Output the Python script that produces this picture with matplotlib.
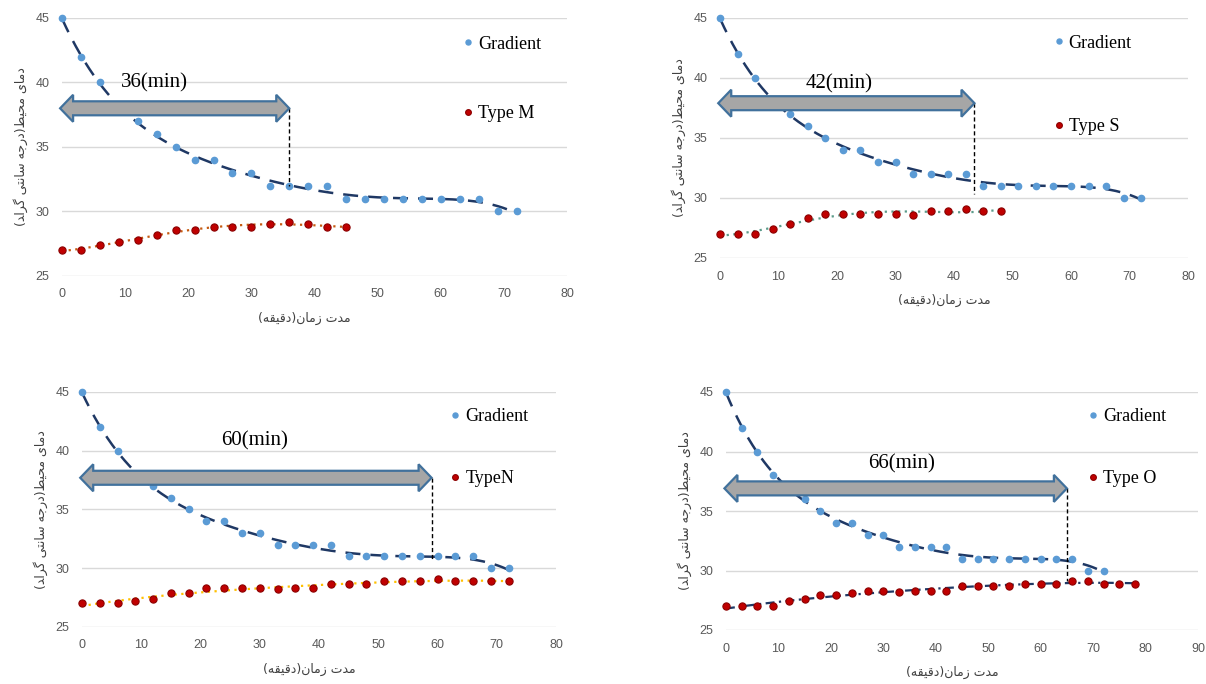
import matplotlib.pyplot as plt
import numpy as np
from matplotlib.patches import Polygon

# minutes (every 3 min)
gradient_x = np.arange(0, 73, 3)
gradient_y = [45, 42, 40, 38, 37, 36, 35, 34, 34, 33, 33, 32, 32, 32, 32,
              31, 31, 31, 31, 31, 31, 31, 31, 30, 30]

type_names = ["Type M", "Type S", "TypeN", "Type O"]
type_m = [27, 27, 27.4, 27.6, 27.8, 28.2, 28.6, 28.6, 28.8, 28.8, 28.8, 29.0,
          29.2, 29.0, 28.8, 28.8]
type_s = [27, 27, 27, 27.4, 27.8, 28.3, 28.7, 28.7, 28.7, 28.7, 28.7, 28.6,
          28.9, 28.9, 29.1, 28.9, 28.9]
type_n = [27, 27, 27, 27.2, 27.4, 27.9, 27.9, 28.3, 28.3, 28.3, 28.3, 28.2,
          28.3, 28.3, 28.7, 28.7, 28.7, 28.9, 28.9, 28.9, 29.1, 28.9, 28.9,
          28.9, 28.9]
type_o = [27, 27, 27, 27, 27.4, 27.6, 27.9, 27.9, 28.1, 28.3, 28.3, 28.2,
          28.3, 28.3, 28.3, 28.7, 28.7, 28.7, 28.7, 28.9, 28.9, 28.9, 29.1,
          29.1, 28.9, 28.9, 28.9]
type_values = [type_m, type_s, type_n, type_o]

minutes = [36, 42, 60, 66]          # text on the arrows
arrow_end = [36, 43.5, 59, 65]      # where the arrow head sits
arrow_y = [38.0, 37.9, 37.7, 36.9]
drop_to = [32.0, 30.3, 30.7, 29.1]  # end of the vertical dashed line
label_xy = [(14.7, 40.0), (20.3, 39.5), (29.2, 40.8), (33.4, 39.0)]
xmax = [80, 80, 80, 90]

trend_colors = ["#C55A11", "#5B9B8A", "#FFC000", "#1F3864"]
trend_styles = [(0, (1, 2)), (0, (1, 2)), (0, (1, 2)), (0, (4, 2, 1, 2))]

# axes boxes in pixels: x0, x1, y_top, y_bottom
boxes = [(62, 567, 18, 276), (720, 1188, 18, 258),
         (82, 556, 392, 627), (726, 1198, 392, 630)]
legend_pos = [(0.796, 0.764, 2.9), (0.714, 0.721, 3.7),
              (0.778, 0.762, 2.5), (0.769, 0.765, 2.5)]

# Persian labels in presentation forms, visual order
xlab = "(\uFEEA\uFED8\uFEF4\uFED7\uFEA9)\uFEE5\uFE8E\uFEE3\uFEAF \uFE95\uFEAA\uFEE3"
ylab = ("(\uFEAA\uFE8D\uFEAE\uFB94 \uFEF0\uFE98\uFEE7\uFE8E\uFEB3 "
        "\uFEEA\uFE9F\uFEAD\uFEA9)\uFEC2\uFEF4\uFEA4\uFEE3 \uFEEF\uFE8E\uFEE3\uFEA9")

W, H = 1206, 684
fig = plt.figure(figsize=(W / 100, H / 100), dpi=100)


def fat_arrow(ax, x0, x1, y, body=14, head=27, hlen=13):
    # build a double headed block arrow in pixel space, back to data
    p0 = ax.transData.transform((x0, y))
    p1 = ax.transData.transform((x1, y))
    a, b, cy = p0[0], p1[0], p0[1]
    pts = [(a, cy), (a + hlen, cy + head / 2), (a + hlen, cy + body / 2),
           (b - hlen, cy + body / 2), (b - hlen, cy + head / 2), (b, cy),
           (b - hlen, cy - head / 2), (b - hlen, cy - body / 2),
           (a + hlen, cy - body / 2), (a + hlen, cy - head / 2)]
    pts = ax.transData.inverted().transform(pts)
    ax.add_patch(Polygon(pts, closed=True, facecolor="#A6A6A6",
                         edgecolor="#41719C", lw=1.6, zorder=4,
                         clip_on=False))


for i in range(4):
    x0, x1, yt, yb = boxes[i]
    ax = fig.add_axes([x0 / W, 1 - yb / H, (x1 - x0) / W, (yb - yt) / H])
    ax.set_xlim(0, xmax[i])
    ax.set_ylim(25, 45)
    ax.set_xticks(np.arange(0, xmax[i] + 1, 10))
    ax.set_yticks([25, 30, 35, 40, 45])
    ax.grid(axis="y", color="#D9D9D9", lw=1)
    ax.set_axisbelow(True)
    for s in ax.spines.values():
        s.set_visible(False)
    ax.tick_params(length=0, labelsize=9, labelcolor="#595959", pad=9)
    for t in ax.get_xticklabels() + ax.get_yticklabels():
        t.set_family("Liberation Sans")

    vals = type_values[i]
    tx = gradient_x[0] + 3 * np.arange(len(vals))

    # trend lines
    gfit = np.polynomial.Polynomial.fit(gradient_x, gradient_y, 6)
    xs = np.linspace(0, gradient_x[-1], 200)
    ax.plot(xs, gfit(xs), color="#1F3864", lw=1.8, ls=(0, (6, 4)), zorder=2,
            clip_on=False)
    tfit = np.polynomial.Polynomial.fit(tx, vals, 4)
    xs2 = np.linspace(0, tx[-1], 200)
    ax.plot(xs2, tfit(xs2), color=trend_colors[i], lw=1.6,
            ls=trend_styles[i], zorder=2, clip_on=False)

    ax.plot(gradient_x, gradient_y, "o", ms=4.5, color="#5B9BD5",
            label="Gradient", zorder=3, clip_on=False)
    ax.plot(tx, vals, "o", ms=5.2, color="#C00000", mec="#8B0000", mew=0.8,
            label=type_names[i], zorder=3, clip_on=False)

    fat_arrow(ax, -0.3, arrow_end[i], arrow_y[i])
    ax.plot([arrow_end[i], arrow_end[i]], [arrow_y[i], drop_to[i]],
            color="black", lw=1, ls=(0, (3, 2)), zorder=3)
    ax.text(label_xy[i][0], label_xy[i][1], "%d(min)" % minutes[i],
            family="Liberation Serif", fontsize=15, ha="center", va="center")

    lx, ly, sp = legend_pos[i]
    ax.legend(loc="center left", bbox_to_anchor=(lx, ly), frameon=False,
              prop={"family": "Liberation Serif", "size": 13},
              handlelength=0.5, handletextpad=0.3, labelspacing=sp,
              borderpad=0, borderaxespad=0, markerscale=0.8)

    ax.set_xlabel(xlab, family="DejaVu Sans", fontsize=9, color="#404040")
    ax.set_ylabel(ylab, family="DejaVu Sans", fontsize=9, color="#404040")
    ax.xaxis.set_label_coords(0.48, -36 / (yb - yt))
    ax.yaxis.set_label_coords(-34 / (x1 - x0), 0.5)

fig.savefig("out.png", dpi=100)
